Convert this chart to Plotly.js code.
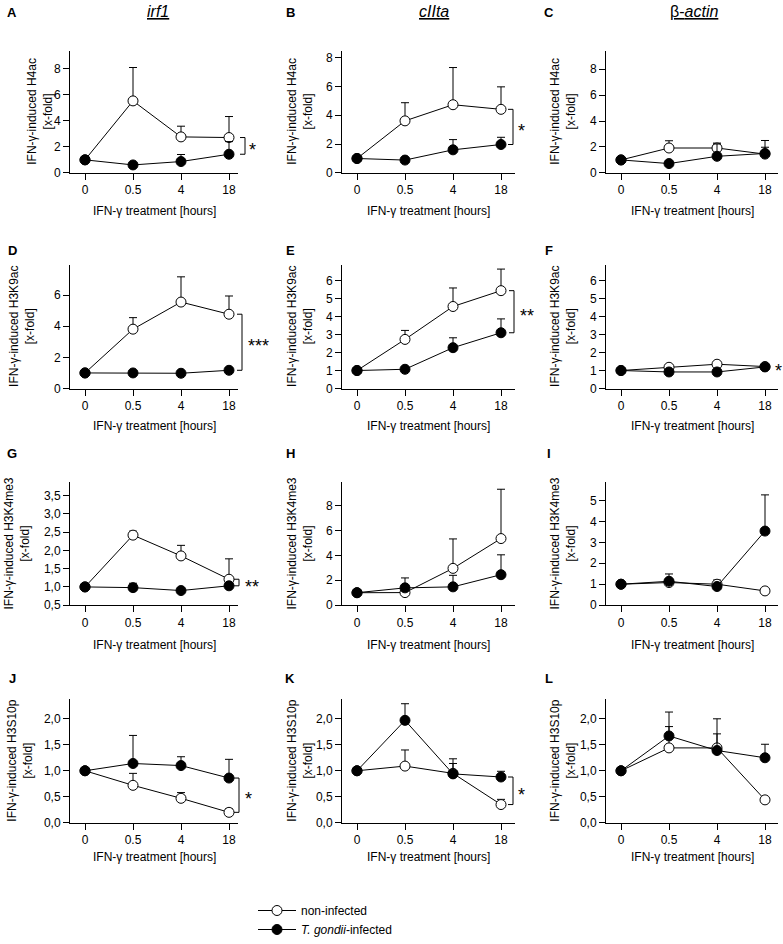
<!DOCTYPE html>
<html><head><meta charset="utf-8">
<script src="https://cdn.plot.ly/plotly-3.0.1.min.js"></script>
<style>html,body{margin:0;padding:0;background:#fff}#chart{width:783px;height:944px}</style>
</head><body><div id="chart"></div>
<script>
// ---------- DATA ----------
const times = ["0", "0.5", "4", "18"];
const genes = ["irf1", "cIIta", "β-actin"];
const marks = ["H4ac", "H3K9ac", "H3K4me3", "H3S10p"];
const panelLetters = ["A","B","C","D","E","F","G","H","I","J","K","L"];
const seriesNames = ["non-infected", "<i>T. gondii</i>-infected"];

// mean values (x-fold) and upper error (SEM) per panel; open = non-infected, inf = T. gondii-infected
const A_open = [1.0, 5.52, 2.76, 2.71];  const A_openErr = [0, 2.56, 0.82, 1.61];
const A_inf  = [1.0, 0.61, 0.87, 1.43];  const A_infErr  = [0, 0.08, 0.54, 0.97];
const B_open = [1.0, 3.61, 4.73, 4.41];  const B_openErr = [0, 1.26, 2.58, 1.56];
const B_inf  = [1.0, 0.89, 1.60, 1.97];  const B_infErr  = [0, 0.08, 0.71, 0.50];
const C_open = [1.0, 1.92, 1.92, 1.45];  const C_openErr = [0, 0.56, 0.38, 1.05];
const C_inf  = [1.0, 0.72, 1.28, 1.50];  const C_infErr  = [0, 0.08, 0.95, 0.48];
const D_open = [1.0, 3.81, 5.55, 4.77];  const D_openErr = [0, 0.74, 1.62, 1.17];
const D_inf  = [1.0, 1.00, 0.98, 1.17];  const D_infErr  = [0, 0.05, 0.05, 0.15];
const E_open = [1.0, 2.73, 4.56, 5.44];  const E_openErr = [0, 0.50, 1.03, 1.20];
const E_inf  = [1.0, 1.07, 2.27, 3.10];  const E_infErr  = [0, 0.05, 0.55, 0.77];
const F_open = [1.0, 1.18, 1.35, 1.22];  const F_openErr = [0, 0.07, 0.10, 0.03];
const F_inf  = [1.0, 0.92, 0.92, 1.20];  const F_infErr  = [0, 0.03, 0.03, 0.03];
const G_open = [1.0, 2.42, 1.85, 1.21];  const G_openErr = [0, 0.11, 0.29, 0.56];
const G_inf  = [1.0, 0.98, 0.90, 1.03];  const G_infErr  = [0, 0.12, 0.02, 0.02];
const H_open = [1.0, 1.01, 2.96, 5.36];  const H_openErr = [0, 0.10, 2.37, 3.97];
const H_inf  = [1.0, 1.39, 1.47, 2.45];  const H_infErr  = [0, 0.80, 0.93, 1.60];
const I_open = [1.0, 1.08, 1.00, 0.68];  const I_openErr = [0, 0.05, 0.20, 0.02];
const I_inf  = [1.0, 1.14, 0.89, 3.54];  const I_infErr  = [0, 0.35, 0.05, 1.73];
const J_open = [1.0, 0.72, 0.47, 0.20];  const J_openErr = [0, 0.23, 0.11, 0.07];
const J_inf  = [1.0, 1.14, 1.10, 0.86];  const J_infErr  = [0, 0.54, 0.17, 0.36];
const K_open = [1.0, 1.09, 0.95, 0.35];  const K_openErr = [0, 0.31, 0.19, 0.10];
const K_inf  = [1.0, 1.97, 0.94, 0.88];  const K_infErr  = [0, 0.32, 0.29, 0.11];
const L_open = [1.0, 1.44, 1.44, 0.44];  const L_openErr = [0, 0.41, 0.56, 0.02];
const L_inf  = [1.0, 1.67, 1.39, 1.25];  const L_infErr  = [0, 0.46, 0.32, 0.26];

// significance labels per panel ('' = none)
const sigLabels = ["*", "*", "", "***", "**", "*", "**", "", "", "*", "*", ""];

// ---------- LAYOUT HELPERS ----------
const W = 783, H = 944;
const px = x => x / W;
const py = y => 1 - y / H;
const FONT = "'Liberation Sans', Arial, Helvetica, sans-serif";

const openSets = [A_open,B_open,C_open,D_open,E_open,F_open,G_open,H_open,I_open,J_open,K_open,L_open];
const openErrs = [A_openErr,B_openErr,C_openErr,D_openErr,E_openErr,F_openErr,G_openErr,H_openErr,I_openErr,J_openErr,K_openErr,L_openErr];
const infSets  = [A_inf,B_inf,C_inf,D_inf,E_inf,F_inf,G_inf,H_inf,I_inf,J_inf,K_inf,L_inf];
const infErrs  = [A_infErr,B_infErr,C_infErr,D_infErr,E_infErr,F_infErr,G_infErr,H_infErr,I_infErr,J_infErr,K_infErr,L_infErr];

const cols = [{l:70, r:238}, {l:342, r:515}, {l:606, r:778}];
const rows = [{t:51, b:174}, {t:267, b:391}, {t:485, b:609}, {t:703, b:828}];
const yRanges = [[0,9.37],[0,8.48],[0,9.43],[0,7.91],[0,6.85],[0,6.85],[0.5,3.88],[0,9.92],[0,5.89],[0,2.39],[0,2.39],[0,2.39]];
const yDticks = [2,2,2,2,1,1,0.5,2,1,0.5,0.5,0.5];
const yFormats = ["","","","","","",".1f","","",".1f",".1f",".1f"];
const yTitleX = [[40,300,563],[22,300,563],[17,300,563],[20,300,563]];
const xTitleY = [212, 429, 649, 862];
const letterY = [13, 252, 456, 683];
const letterX = [12, 290, 549];
const bracketX = [245, 513, null, 242, 514, null, 239, null, null, 239, 513, null];
const starX    = [252, 521, null, 258, 527, 778, 252, null, null, 248, 521, null];

const traces = [];
const layout = {
  width: W, height: H,
  margin: {l:0, r:0, t:0, b:0},
  paper_bgcolor: "#fff", plot_bgcolor: "#fff",
  font: {family: FONT, size: 12, color: "#000"},
  separators: ",.",
  showlegend: true,
  legend: {x: px(253), xanchor: "left", y: py(902), yanchor: "top",
           font: {size: 12, family: FONT, color: "#000"}, bgcolor: "rgba(0,0,0,0)",
           tracegroupgap: 0, traceorder: "normal", itemwidth: 38},
  annotations: [], shapes: []
};

for (let i = 0; i < 12; i++) {
  const r = Math.floor(i / 3), c = i % 3;
  const n = i === 0 ? "" : String(i + 1);
  const col = cols[c], row = rows[r];
  const xName = "xaxis" + n, yName = "yaxis" + n;
  const xr = (col.r - col.l) / 48;
  layout[xName] = {
    type: "category", categoryorder: "array", categoryarray: times,
    domain: [px(col.l), px(col.r)], anchor: "y" + n,
    range: [-0.3125, -0.3125 + xr],
    showline: true, linecolor: "#000", linewidth: 1,
    ticks: "outside", ticklen: 6, tickwidth: 1, tickcolor: "#000",
    showgrid: false, zeroline: false, tickfont: {size: 12, family: FONT, color: "#000"}
  };
  layout[yName] = {
    domain: [py(row.b), py(row.t)], anchor: "x" + n,
    range: yRanges[i], tick0: yRanges[i][0] === 0.5 ? 0.5 : 0, dtick: yDticks[i],
    tickformat: yFormats[i],
    showline: true, linecolor: "#000", linewidth: 1,
    ticks: "outside", ticklen: 6, tickwidth: 1, tickcolor: "#000",
    showgrid: false, zeroline: false, tickfont: {size: 12, family: FONT, color: "#000"}
  };
  const common = {x: times, xaxis: "x" + n, yaxis: "y" + n, mode: "lines+markers",
                  line: {color: "#000", width: 1}, cliponaxis: false};
  traces.push(Object.assign({}, common, {
    y: openSets[i], name: seriesNames[0], legendgroup: "open", showlegend: i === 0,
    marker: {symbol: "circle", size: 10, color: "#fff", line: {color: "#000", width: 1}},
    error_y: {type: "data", symmetric: false, array: openErrs[i], arrayminus: [0,0,0,0],
              color: "#000", thickness: 1, width: 4}
  }));
  traces.push(Object.assign({}, common, {
    y: infSets[i], name: seriesNames[1], legendgroup: "inf", showlegend: i === 0,
    marker: {symbol: "circle", size: 10, color: "#000", line: {color: "#000", width: 1}},
    error_y: {type: "data", symmetric: false, array: infErrs[i], arrayminus: [0,0,0,0],
              color: "#000", thickness: 1, width: 4}
  }));

  // y axis title
  layout.annotations.push({
    xref: "paper", yref: "paper", x: px(yTitleX[r][c]), y: py((row.t + row.b) / 2),
    text: "IFN-γ-induced " + marks[r] + "<br>[x-fold]", textangle: -90, showarrow: false,
    font: {size: 12, family: FONT, color: "#000"}, xanchor: "center", yanchor: "middle"
  });
  // x axis title
  layout.annotations.push({
    xref: "paper", yref: "paper", x: px((col.l + col.r) / 2), y: py(xTitleY[r]),
    text: "IFN-γ treatment [hours]", showarrow: false,
    font: {size: 12, family: FONT, color: "#000"}, xanchor: "center", yanchor: "middle"
  });
  // panel letter
  layout.annotations.push({
    xref: "paper", yref: "paper", x: px(letterX[c]), y: py(letterY[r]),
    text: "<b>" + panelLetters[i] + "</b>", showarrow: false,
    font: {size: 13, family: FONT, color: "#000"}, xanchor: "center", yanchor: "middle"
  });
  // significance bracket & stars
  const yo = openSets[i][3], yi = infSets[i][3];
  if (bracketX[i] !== null) {
    const bx = bracketX[i];
    const ln = {color: "#000", width: 1};
    layout.shapes.push({type: "line", xref: "paper", yref: "y" + n, x0: px(bx), x1: px(bx), y0: yo, y1: yi, line: ln});
    layout.shapes.push({type: "line", xref: "paper", yref: "y" + n, x0: px(bx - 5), x1: px(bx), y0: yo, y1: yo, line: ln});
    layout.shapes.push({type: "line", xref: "paper", yref: "y" + n, x0: px(bx - 5), x1: px(bx), y0: yi, y1: yi, line: ln});
  }
  if (sigLabels[i]) {
    layout.annotations.push({
      xref: "paper", yref: "y" + n, x: px(starX[i]), y: (yo + yi) / 2,
      text: sigLabels[i], showarrow: false, yshift: -4,
      font: {size: 18, family: FONT, color: "#000"}, xanchor: "center", yanchor: "middle"
    });
  }
}

// column headers
const headerX = [158, 434, 694];
const headerText = ["<u><i>irf1</i></u>", "<u><i>cIIta</i></u>", "<u>β-<i>actin</i></u>"];
for (let c = 0; c < 3; c++) {
  layout.annotations.push({
    xref: "paper", yref: "paper", x: px(headerX[c]), y: py(12),
    text: headerText[c], showarrow: false,
    font: {size: 16, family: FONT, color: "#000"}, xanchor: "center", yanchor: "middle"
  });
}

Plotly.newPlot("chart", traces, layout, {displayModeBar: false, staticPlot: true});
</script>
</body></html>
